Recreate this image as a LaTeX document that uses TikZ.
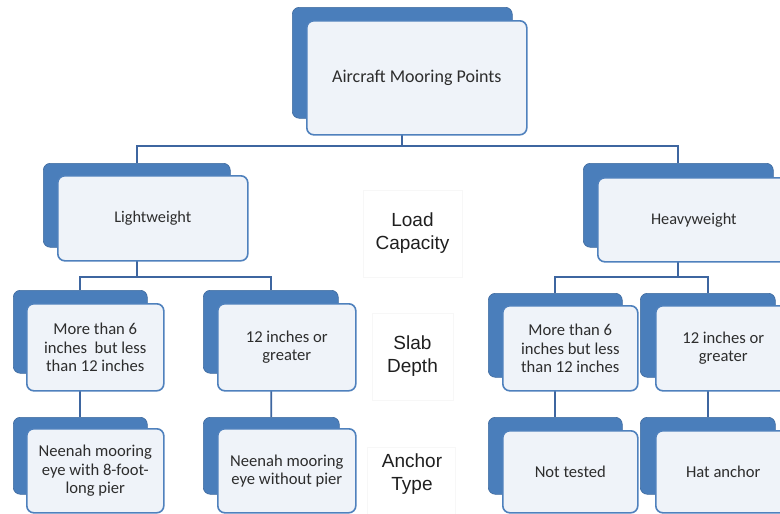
\documentclass[tikz,border=0pt]{standalone}
\usepackage{fontspec}
\setmainfont{Carlito}
\newfontfamily\labfont{Liberation Sans}
\pgfdeclarelayer{bg}
\pgfsetlayers{bg,main}
\definecolor{backblue}{RGB}{74,126,187}
\definecolor{frontfill}{RGB}{239,243,249}
\definecolor{frontline}{RGB}{79,129,189}
\definecolor{connblue}{RGB}{62,102,160}
\definecolor{txt}{RGB}{45,45,45}
\tikzset{
  backbox/.style={anchor=north west, fill=backblue, draw=backblue!85!black, line width=0.6pt, rounded corners=7pt, inner sep=0pt},
  frontbox/.style={anchor=north west, fill=frontfill, draw=frontline, line width=1.6pt, rounded corners=7pt, inner sep=2pt, align=center, text=txt},
  conn/.style={draw=connblue, line width=1.7pt},
  labbox/.style={draw=black!3, line width=0.6pt, inner sep=0pt, align=center, text=black!88, font=\labfont\fontsize{19}{23}\selectfont},
  small/.style={font=\fontsize{16.6}{18.2}\selectfont}
}
\begin{document}
\begin{tikzpicture}[x=1pt,y=-1pt]
\useasboundingbox (0,0) rectangle (780,514);
\clip (0,0) rectangle (780,514);
\coordinate (bus1) at (0,146);
\coordinate (bus2) at (0,277);
% top
\node[backbox, minimum width=220pt, minimum height=111pt] (topB) at (292,7) {};
\node[frontbox, minimum width=220pt, minimum height=114pt, font=\fontsize{18}{21}\selectfont] (topF) at (306,20) {Aircraft Mooring Points};
% level 2
\node[backbox, minimum width=187pt, minimum height=84pt] (lightB) at (43,163) {};
\node[frontbox, minimum width=190pt, minimum height=85pt, font=\fontsize{16.3}{19}\selectfont] (lightF) at (57,175) {Lightweight};
\node[backbox, minimum width=190pt, minimum height=84pt] (heavyB) at (583,163) {};
\node[frontbox, minimum width=192pt, minimum height=84pt, font=\fontsize{16.3}{19}\selectfont] (heavyF) at (597,177) {Heavyweight};
% level 3
\node[backbox, minimum width=134pt, minimum height=83pt] (laB) at (13,290) {};
\node[frontbox, small, minimum width=137pt, minimum height=87pt] (laF) at (26,303) {More than 6\\inches~ but less\\than 12 inches};
\node[backbox, minimum width=135pt, minimum height=83pt] (lbB) at (203,290) {};
\node[frontbox, small, minimum width=138pt, minimum height=87pt] (lbF) at (217,303) {12 inches or\\greater};
\node[backbox, minimum width=134pt, minimum height=84pt] (raB) at (488,293) {};
\node[frontbox, small, minimum width=135pt, minimum height=85pt] (raF) at (502,305) {More than 6\\inches but less\\than 12 inches};
\node[backbox, minimum width=135pt, minimum height=84pt] (rbB) at (640,293) {};
\node[frontbox, small, minimum width=135pt, minimum height=85pt] (rbF) at (655,305) {12 inches or\\greater};
% level 4
\node[backbox, minimum width=134pt, minimum height=77pt] (lcB) at (13,417) {};
\node[frontbox, small, minimum width=137pt, minimum height=84pt] (lcF) at (26,428) {Neenah mooring\\eye with 8-foot-\\long pier};
\node[backbox, minimum width=136pt, minimum height=77pt] (ldB) at (203,417) {};
\node[frontbox, small, minimum width=138pt, minimum height=84pt] (ldF) at (217,428) {Neenah mooring\\eye without pier};
\node[backbox, minimum width=134pt, minimum height=77pt] (rcB) at (488,417) {};
\node[frontbox, small, minimum width=135pt, minimum height=82pt] (rcF) at (502,430) {Not tested};
\node[backbox, minimum width=135pt, minimum height=77pt] (rdB) at (640,417) {};
\node[frontbox, small, minimum width=135pt, minimum height=82pt] (rdF) at (655,430) {Hat anchor};
% labels
\node[labbox, minimum width=99pt, minimum height=87pt] (loadL) at (412.5,233.5) {Load\\Capacity};
\node[labbox, minimum width=81pt, minimum height=87pt] (slabL) at (412.5,356.5) {Slab\\Depth};
\node[labbox, minimum width=88pt, minimum height=90pt] (anchL) at (411,492) {};
\node[text=black!88, align=center, font=\labfont\fontsize{19}{23}\selectfont] (anchT) at (412,474) {Anchor\\Type};
% connectors
\begin{pgfonlayer}{bg}
\fill[white] (0,0) rectangle (780,514);
\draw[conn] (topB.center) -- (topB |- bus1);
\draw[conn] (lightB.north) |- (heavyB |- bus1) -- (heavyB.north);
\draw[conn] (lightB.center) -- (lightB |- bus2);
\draw[conn] (laB.north) |- (lbB |- bus2) -- (lbB.north);
\draw[conn] (heavyB.center) -- (heavyB |- bus2);
\draw[conn] (raB.north) |- (rbB |- bus2) -- (rbB.north);
\draw[conn] (laB.center) -- (lcB.north);
\draw[conn] (lbB.center) -- (ldB.north);
\draw[conn] (raB.center) -- (rcB.north);
\draw[conn] (rbB.center) -- (rdB.north);
\end{pgfonlayer}
\end{tikzpicture}
\end{document}
